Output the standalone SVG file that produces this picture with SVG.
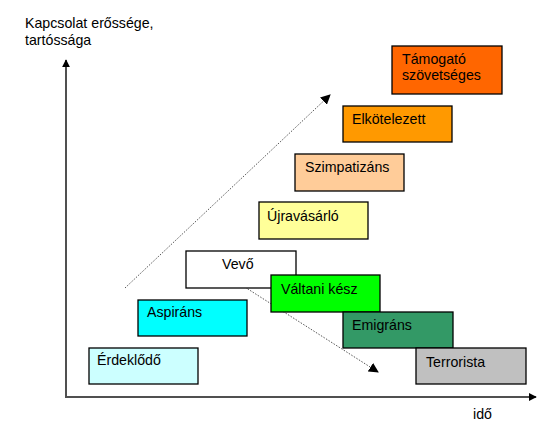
<svg xmlns="http://www.w3.org/2000/svg" width="555" height="431" viewBox="0 0 555 431">
<defs>
<style>
text{font-family:"Liberation Sans",Arial,sans-serif;font-size:14.2px;fill:#000}
.box rect{stroke:#000;stroke-width:1.3}
.axis{stroke:#505050;stroke-width:2;fill:none}
.dot{stroke:#555;stroke-width:1;stroke-dasharray:1.5,1.5;fill:none}
</style>
<marker id="ah" viewBox="0 0 10 10" refX="9" refY="5" markerWidth="8" markerHeight="8" markerUnits="userSpaceOnUse" orient="auto"><path d="M0,0L10,5L0,10z" fill="#000"/></marker>
<marker id="ah2" viewBox="0 0 10 10" refX="9" refY="5" markerWidth="10" markerHeight="10" markerUnits="userSpaceOnUse" orient="auto"><path d="M0,0L10,5L0,10z" fill="#000"/></marker>
</defs>
<rect width="555" height="431" fill="#fff"/>
<g id="labels">
<text x="25" y="28">Kapcsolat erőssége,</text>
<text x="25" y="45">tartóssága</text>
<text x="473" y="419">idő</text>
</g>
<g id="connectors">
<path class="axis" d="M66,397V60" marker-end="url(#ah)"/>
<path class="axis" d="M65,397H536" marker-end="url(#ah)"/>
<path class="dot" d="M125,288L330,95" marker-end="url(#ah2)"/>
<path class="dot" d="M240,284L378,372" marker-end="url(#ah2)"/>
</g>
<g id="erdeklodo" class="box"><rect x="89" y="348" width="109" height="36" fill="#CCFFFF"/><text x="97" y="365">Érdeklődő</text></g>
<g id="aspirans" class="box"><rect x="138" y="300" width="109" height="36" fill="#00FFFF"/><text x="147" y="317">Aspiráns</text></g>
<g id="vevo" class="box"><rect x="186" y="251" width="110" height="37" fill="#FFFFFF"/><text x="222" y="269">Vevő</text></g>
<g id="valtani" class="box"><rect x="271" y="275" width="109" height="37" fill="#00FF00"/><text x="281" y="294">Váltani kész</text></g>
<g id="emigrans" class="box"><rect x="343" y="312" width="110" height="36" fill="#339966"/><text x="352" y="330">Emigráns</text></g>
<g id="terrorista" class="box"><rect x="416" y="348" width="110" height="36" fill="#C0C0C0"/><text x="426" y="367">Terrorista</text></g>
<g id="ujravasarlo" class="box"><rect x="259" y="202" width="109" height="37" fill="#FFFF99"/><text x="267" y="221">Újravásárló</text></g>
<g id="szimpatizans" class="box"><rect x="295" y="154" width="109" height="37" fill="#FFCC99"/><text x="305" y="172">Szimpatizáns</text></g>
<g id="elkotelezett" class="box"><rect x="343" y="106" width="109" height="36" fill="#FF9900"/><text x="352" y="124">Elkötelezett</text></g>
<g id="tamogato" class="box"><rect x="392" y="46" width="110" height="48" fill="#FF6600"/><text x="402" y="64">Támogató</text><text x="402" y="80">szövetséges</text></g>
</svg>
